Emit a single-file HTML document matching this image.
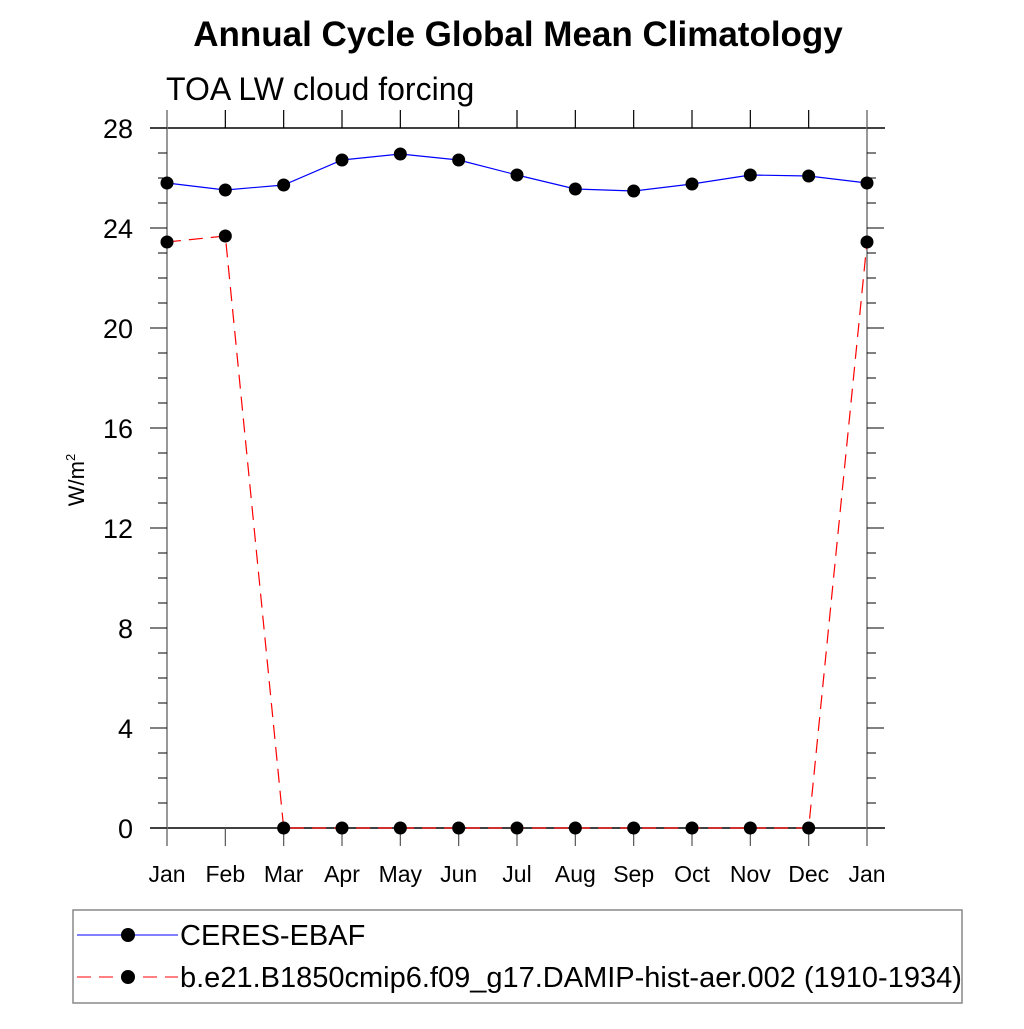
<!DOCTYPE html>
<html><head><meta charset="utf-8"><style>
body{margin:0;background:#fff;font-family:"Liberation Sans",sans-serif}
svg text{font-family:"Liberation Sans",sans-serif}
</style></head><body>
<svg id="c" width="1024" height="1024" viewBox="0 0 1024 1024">
<text x="518" y="46" text-anchor="middle" font-size="35" font-weight="bold">Annual Cycle Global Mean Climatology</text>
<text x="166" y="100" font-size="32">TOA LW cloud forcing</text>
<text transform="translate(84,480) rotate(-90)" text-anchor="middle" font-size="22">W/m<tspan font-size="13" dy="-9">2</tspan></text>
<g id="axes"></g>
<g id="series"></g>
<g>
<rect x="73" y="910" width="889" height="93" fill="none" stroke="#888" stroke-width="1.5"/>
<g>
<line x1="77" y1="935" x2="178" y2="935" stroke="#0000ff" stroke-width="1"/>
<circle cx="128" cy="935" r="7"/>
<text x="180" y="945" font-size="29">CERES-EBAF</text></g>
<g>
<line x1="77" y1="977" x2="178" y2="977" stroke="#ff0000" stroke-width="1" stroke-dasharray="14,8"/>
<circle cx="128" cy="977" r="7"/>
<text x="180" y="987" font-size="29">b.e21.B1850cmip6.f09_g17.DAMIP-hist-aer.002 (1910-1934)</text></g>
</g>
</svg>
<script>
const months=["Jan","Feb","Mar","Apr","May","Jun","Jul","Aug","Sep","Oct","Nov","Dec","Jan"];
const ceres=[25.8,25.52,25.72,26.72,26.96,26.72,26.12,25.56,25.48,25.76,26.12,26.08,25.8];
const model=[23.44,23.68,0,0,0,0,0,0,0,0,0,0,23.44];
const yTicks=[0,4,8,12,16,20,24,28];
const NS="http://www.w3.org/2000/svg";
const X=i=>167+i*(700/12), Y=v=>828-v*25;
function mk(t,a,p){const e=document.createElementNS(NS,t);for(const k in a)e.setAttribute(k,a[k]);p.appendChild(e);return e;}
const ax=document.getElementById('axes'), se=document.getElementById('series');
let e;
e=mk('line',{x1:150,y1:128,x2:885,y2:128,stroke:'#000','stroke-width':1.5},ax);


e=mk('line',{x1:150,y1:828,x2:885,y2:828,stroke:'#000','stroke-width':1.5},ax);


[0,12].forEach(i=>{e=mk('line',{x1:X(i),y1:110,x2:X(i),y2:846,stroke:'#777','stroke-width':1.5},ax);

});
months.forEach((m,i)=>{
 if(i>0&&i<12){mk('line',{x1:X(i),y1:110,x2:X(i),y2:128,stroke:'#000','stroke-width':1.2},ax);
 mk('line',{x1:X(i),y1:828,x2:X(i),y2:846,stroke:'#555','stroke-width':1.2},ax);}
 e=mk('text',{x:X(i),y:882,'text-anchor':'middle','font-size':23},ax);e.textContent=m;
 
 
});
for(let v=0;v<=28;v+=1){
  const len=(v%4===0)?17:9;
  mk('line',{x1:X(0)-len,y1:Y(v),x2:X(0),y2:Y(v),stroke:'#000','stroke-width':1},ax);
  mk('line',{x1:X(12),y1:Y(v),x2:X(12)+len,y2:Y(v),stroke:'#000','stroke-width':1},ax);
}
yTicks.forEach(v=>{e=mk('text',{x:133,y:Y(v)+10,'text-anchor':'end','font-size':27},ax);e.textContent=v;

});
function series(vals,color,dash,name){
 e=mk('polyline',{points:vals.map((v,i)=>X(i)+','+Y(v)).join(' '),fill:'none',stroke:color,'stroke-width':1.2,'stroke-dasharray':dash},se);
 
 
 vals.forEach((v,i)=>{e=mk('circle',{cx:X(i),cy:Y(v),r:6.5,fill:'#000'},se);
 
 });
}
series(model,'#ff0000','14,8','model');
series(ceres,'#0000ff','none','ceres');
</script>
</body></html>
